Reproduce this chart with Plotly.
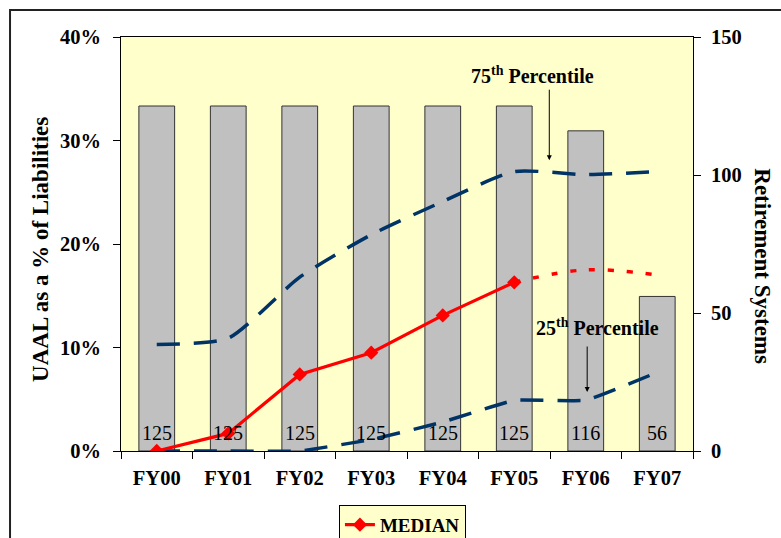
import plotly.graph_objects as go

years = ['FY00', 'FY01', 'FY02', 'FY03', 'FY04', 'FY05', 'FY06', 'FY07']
systems = [125, 125, 125, 125, 125, 125, 116, 56]

median = [0.0, 0.017, 0.074, 0.095, 0.131, 0.163]
median_years = years[:6]
median_proj = [0.163, 0.175, 0.170]
median_proj_years = years[5:]

pct75 = [0.103, 0.109, 0.168, 0.209, 0.241, 0.270, 0.267, 0.270]
pct25 = [0.0, 0.0, 0.0, 0.011, 0.028, 0.049, 0.049, 0.076]

FONT = 'Times New Roman, Liberation Serif, serif'
NAVY = '#003366'
RED = '#ff0000'

fig = go.Figure()

# count of systems, right axis
fig.add_trace(go.Bar(x=years, y=systems, yaxis='y',
                     marker=dict(color='#c0c0c0', line=dict(color='#333333', width=1)),
                     showlegend=False, hoverinfo='skip'))

fig.add_trace(go.Scatter(x=years, y=pct75, yaxis='y2', mode='lines',
                         line=dict(color=NAVY, width=3.5, dash='23px,14px',
                                   shape='spline', smoothing=0.6),
                         showlegend=False))
fig.add_trace(go.Scatter(x=years, y=pct25, yaxis='y2', mode='lines',
                         line=dict(color=NAVY, width=3.5, dash='23px,14px',
                                   shape='spline', smoothing=0.25),
                         showlegend=False))
fig.add_trace(go.Scatter(x=median_proj_years, y=median_proj, yaxis='y2', mode='lines',
                         line=dict(color=RED, width=3.5, dash='6px,13px',
                                   shape='spline'),
                         showlegend=False))
fig.add_trace(go.Scatter(x=median_years, y=median, yaxis='y2', mode='lines+markers',
                         name='MEDIAN',
                         line=dict(color=RED, width=3.2),
                         marker=dict(symbol='diamond', size=11, color=RED)))

annots = []
for yr, n in zip(years, systems):
    annots.append(dict(x=yr, y=0, xref='x', yref='y', yanchor='bottom',
                       yshift=5, text=str(n), showarrow=False,
                       font=dict(family=FONT, size=20, color='black')))

annots += [
    dict(x=5.26, y=0.363, xref='x', yref='y2', text='<b>75<sup>th</sup> Percentile</b>',
         showarrow=False, font=dict(family=FONT, size=20, color='black')),
    dict(x=5.49, y=0.281, xref='x', yref='y2', ax=0, ay=-72, text='',
         showarrow=True, arrowhead=2, arrowsize=1, arrowwidth=1, arrowcolor='black'),
    dict(x=6.17, y=0.12, xref='x', yref='y2', text='<b>25<sup>th</sup> Percentile</b>',
         showarrow=False, font=dict(family=FONT, size=20, color='black')),
    dict(x=6.02, y=0.057, xref='x', yref='y2', ax=0, ay=-47, text='',
         showarrow=True, arrowhead=2, arrowsize=1, arrowwidth=1, arrowcolor='black'),
    dict(x=-0.14, y=0.488, xref='paper', yref='paper', textangle=-90,
         xanchor='center', yanchor='middle',
         text='<b>UAAL as a % of Liabilities</b>', showarrow=False,
         font=dict(family=FONT, size=23, color='black')),
    dict(x=1.12, y=0.447, xref='paper', yref='paper', textangle=90,
         xanchor='center', yanchor='middle',
         text='<b>Retirement Systems</b>', showarrow=False,
         font=dict(family=FONT, size=23, color='black')),
]

tickfont = dict(family=FONT, size=20.5, color='black', weight='bold')

fig.update_layout(
    width=781, height=538,
    margin=dict(l=121, r=88, t=37, b=87, autoexpand=False),
    paper_bgcolor='white',
    plot_bgcolor='#ffffcc',
    bargap=0.5,
    font=dict(family=FONT, color='black'),
    xaxis=dict(showline=True, linecolor='black', linewidth=1, mirror=True,
               ticks='outside', tickson='boundaries', ticklen=7, tickcolor='black',
               tickfont=tickfont, ticklabelstandoff=8, showgrid=False,
               automargin=False),
    yaxis=dict(side='right', range=[0, 150], dtick=50, showline=True,
               linecolor='black', linewidth=1, ticks='outside', ticklen=7,
               tickcolor='black', tickfont=tickfont, showgrid=False,
               zeroline=False, ticklabelstandoff=6, automargin=False),
    yaxis2=dict(side='left', overlaying='y', range=[0, 0.4], dtick=0.1,
                tickformat='.0%', showline=True, linecolor='black', linewidth=1,
                ticks='outside', ticklen=7, tickcolor='black', tickfont=tickfont,
                showgrid=False, zeroline=False, ticklabelstandoff=8,
                automargin=False),
    legend=dict(x=0.381, y=-0.13, xanchor='left', yanchor='top',
                bgcolor='#ffffcc', bordercolor='black', borderwidth=1,
                font=dict(family=FONT, size=19, color='black', weight='bold')),
    annotations=annots,
    shapes=[dict(type='rect', xref='paper', yref='paper',
                 x0=-0.194, x1=1.2, y0=-0.25, y1=1.065,
                 line=dict(color='#222222', width=2))],
)

fig.write_html('out.html', config={'displayModeBar': False},
               post_script="document.body.style.margin='0';")
